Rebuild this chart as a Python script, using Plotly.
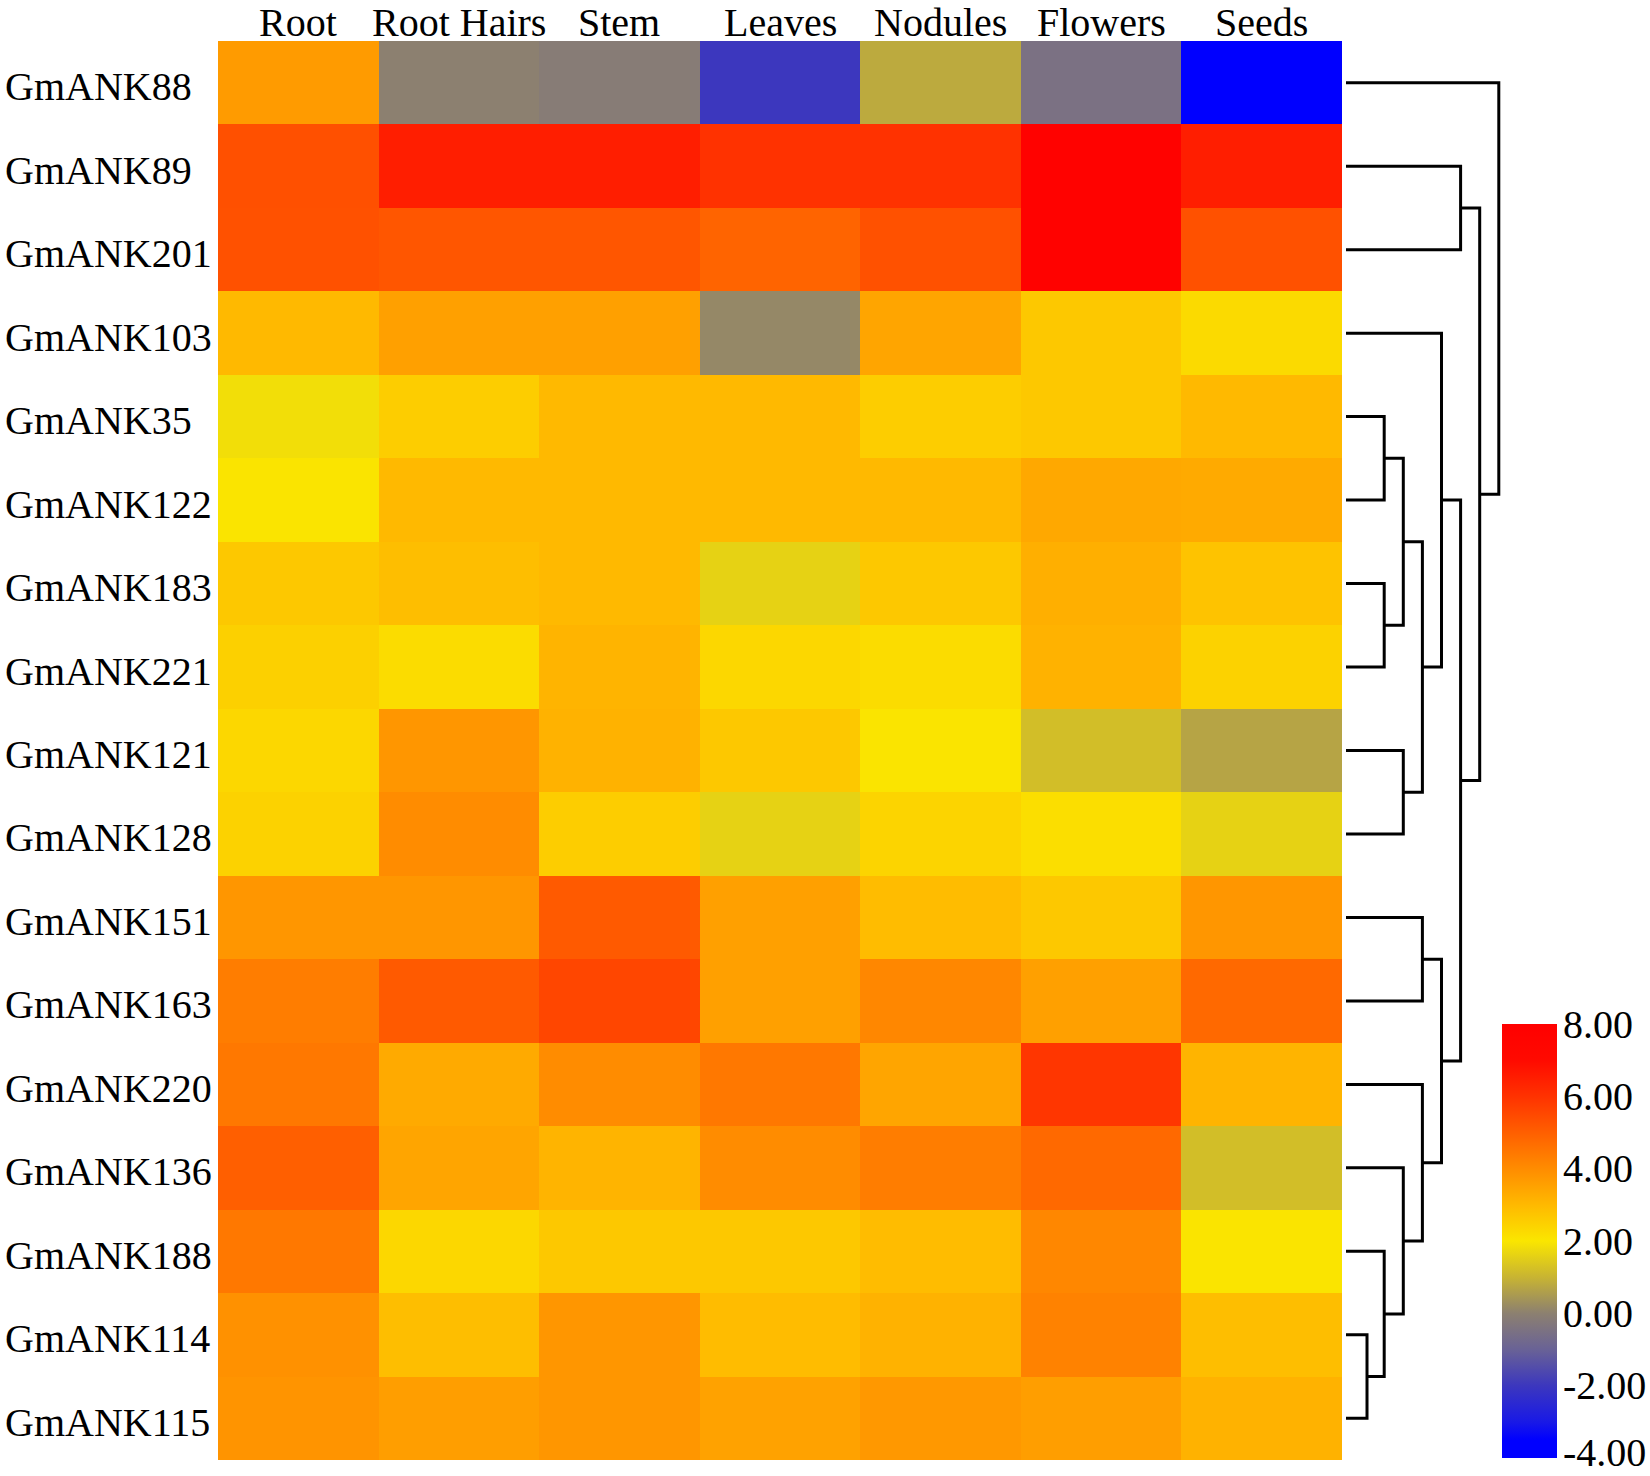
import plotly.graph_objects as go

# tissues (columns) and genes (rows, top to bottom in dendrogram order)
tissues = ["Root", "Root Hairs", "Stem", "Leaves", "Nodules", "Flowers", "Seeds"]
genes = ["GmANK88", "GmANK89", "GmANK201", "GmANK103", "GmANK35", "GmANK122",
         "GmANK183", "GmANK221", "GmANK121", "GmANK128", "GmANK151", "GmANK163",
         "GmANK220", "GmANK136", "GmANK188", "GmANK114", "GmANK115"]

# expression values (log2), one list per gene
GmANK88 = [3.67, 0.0, -0.15, -2.0, 0.8, -0.5, -4.0]
GmANK89 = [5.33, 6.5, 6.5, 6.0, 6.0, 7.8, 6.5]
GmANK201 = [5.3, 5.2, 5.2, 4.9, 5.3, 7.8, 5.3]
GmANK103 = [3.0, 3.56, 3.56, 0.15, 3.44, 2.67, 2.27]
GmANK35 = [1.85, 2.56, 3.0, 3.0, 2.56, 2.67, 3.0]
GmANK122 = [2.05, 3.0, 3.0, 3.0, 3.0, 3.38, 3.33]
GmANK183 = [2.67, 2.89, 3.0, 1.6, 2.67, 3.22, 2.78]
GmANK221 = [2.49, 2.22, 3.11, 2.33, 2.22, 3.16, 2.44]
GmANK121 = [2.33, 3.78, 3.16, 2.67, 2.04, 1.2, 0.7]
GmANK128 = [2.44, 4.0, 2.56, 1.6, 2.4, 2.18, 1.6]
GmANK151 = [3.78, 3.78, 5.11, 3.56, 2.93, 2.67, 3.78]
GmANK163 = [4.33, 5.11, 5.56, 3.56, 4.11, 3.56, 4.78]
GmANK220 = [4.44, 3.33, 4.0, 4.44, 3.44, 5.9, 3.11]
GmANK136 = [5.0, 3.44, 3.11, 4.0, 4.33, 4.78, 1.2]
GmANK188 = [4.44, 2.33, 2.67, 2.67, 2.93, 4.11, 2.04]
GmANK114 = [3.89, 2.89, 3.78, 2.93, 3.16, 4.22, 2.89]
GmANK115 = [3.82, 3.6, 3.78, 3.51, 3.73, 3.6, 3.16]

z = [GmANK88, GmANK89, GmANK201, GmANK103, GmANK35, GmANK122, GmANK183,
     GmANK221, GmANK121, GmANK128, GmANK151, GmANK163, GmANK220, GmANK136,
     GmANK188, GmANK114, GmANK115]

# hierarchical clustering merges: "#k" refers to the k-th merge
merge_a = ["GmANK114", "GmANK188", "GmANK136", "GmANK151", "GmANK220", "#3",
           "GmANK35", "GmANK183", "#6", "GmANK121", "#8", "GmANK103", "#11",
           "GmANK89", "#13", "GmANK88"]
merge_b = ["GmANK115", "#0", "#1", "GmANK163", "#2", "#4",
           "GmANK122", "GmANK221", "#7", "GmANK128", "#9", "#10", "#5",
           "GmANK201", "#12", "#14"]
merge_h = [1.1, 2, 3, 4, 4, 5, 2, 2, 3, 3, 4, 5, 6, 6, 7, 8]

cbar_ticks = [8, 6, 4, 2, 0, -2, -4]

W, H = 1650, 1476
FONT = "Liberation Serif"


def fx(p):
    return p / W


def fy(p):
    return 1 - p / H


colorscale = [
    [0.0, "rgb(0,0,255)"],
    [0.0417, "rgb(0,0,255)"],
    [0.0833, "rgb(25,25,230)"],
    [0.1667, "rgb(60,55,190)"],
    [0.25, "rgb(105,98,150)"],
    [0.3333, "rgb(140,128,112)"],
    [0.4167, "rgb(200,180,50)"],
    [0.5, "rgb(250,230,0)"],
    [0.5833, "rgb(255,185,0)"],
    [0.6667, "rgb(255,140,0)"],
    [0.75, "rgb(255,95,0)"],
    [0.8333, "rgb(255,50,0)"],
    [0.9167, "rgb(255,10,0)"],
    [1.0, "rgb(255,0,0)"],
]

# colour bar geometry (pixels)
CB_TOP, CB_BOT = 1024, 1458

fig = go.Figure()

fig.add_trace(go.Heatmap(
    z=z, x=list(range(len(tissues))), y=list(range(len(genes))),
    zmin=-4, zmax=8, colorscale=colorscale,
    hovertemplate="%{text}<extra></extra>",
    text=[[f"{g} / {t}: {v}" for t, v in zip(tissues, row)] for g, row in zip(genes, z)],
    colorbar=dict(
        x=fx(1502), xanchor="left", xpad=0,
        y=fy(CB_BOT), yanchor="bottom", ypad=0,
        thickness=55, thicknessmode="pixels",
        len=CB_BOT - CB_TOP, lenmode="pixels",
        outlinewidth=0, ticks="", showticklabels=False,
    ),
))

# dendrogram coordinates
pos = {}
for i, g in enumerate(genes):
    pos[g] = (i, 0.0)
xs, ys = [], []
for k, (a, b, h) in enumerate(zip(merge_a, merge_b, merge_h)):
    ya, ha = pos[a]
    yb, hb = pos[b]
    xs += [ha, h, h, hb, None]
    ys += [ya, ya, yb, yb, None]
    pos[f"#{k}"] = ((ya + yb) / 2, h)

fig.add_trace(go.Scatter(
    x=xs, y=ys, xaxis="x2", yaxis="y", mode="lines",
    line=dict(color="black", width=3), hoverinfo="skip", showlegend=False,
))

font = dict(family=FONT, size=40, color="black")
annotations = []
for i, g in enumerate(genes):
    annotations.append(dict(
        x=0, xref="paper", xanchor="left", xshift=3,
        y=i, yref="y", yanchor="middle", yshift=-4,
        text=g, showarrow=False, font=font,
    ))
for j, t in enumerate(tissues):
    annotations.append(dict(
        x=j, xref="x", xanchor="center", y=fy(22), yref="paper", yanchor="middle",
        text=t, showarrow=False, font=font,
    ))
for v in cbar_ticks:
    # keep the lowest label inside the page
    py = min(CB_TOP + (8 - v) / 12 * (CB_BOT - CB_TOP), H - 24)
    annotations.append(dict(
        x=fx(1561), xref="paper", xanchor="left", y=fy(py), yref="paper",
        yanchor="middle", text=f"{v:.2f}", showarrow=False, font=font,
    ))

fig.update_layout(
    width=W, height=H,
    margin=dict(l=0, r=0, t=0, b=0),
    paper_bgcolor="white", plot_bgcolor="white",
    showlegend=False,
    xaxis=dict(domain=[fx(218), fx(1342)], range=[-0.5, 6.5], visible=False),
    yaxis=dict(domain=[fy(1460), fy(41)], range=[16.5, -0.5], visible=False),
    xaxis2=dict(domain=[fx(1346), fx(1537)], range=[0, 10], anchor="y", visible=False),
    annotations=annotations,
)

# drop the default body margin so the figure sits at the page corner
fig.write_html("out.html", config={"displayModeBar": False},
               post_script="document.body.style.margin = '0px';")
